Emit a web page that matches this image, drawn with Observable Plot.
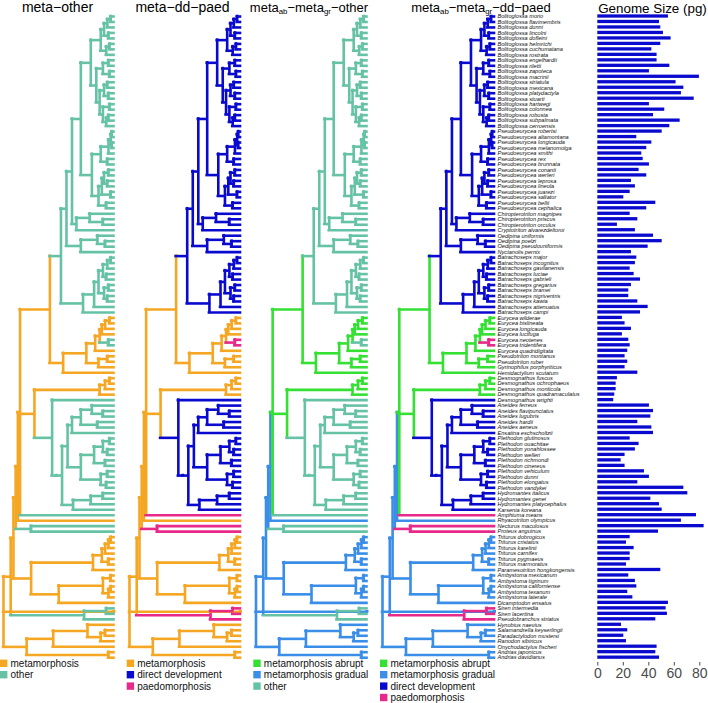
<!DOCTYPE html>
<html>
<head>
<meta charset="utf-8">
<script src="https://cdn.jsdelivr.net/npm/d3@7"></script>
<script src="https://cdn.jsdelivr.net/npm/@observablehq/plot@0.6"></script>
<style>
  body { margin: 0; background: #fff; font-family: "Liberation Sans", Arial, Helvetica, sans-serif; }
  #wrap { position: relative; width: 708px; height: 703px; overflow: hidden; background: #fff; }
  #wrap > svg { position: absolute; top: 0; left: 0; }
</style>
</head>
<body>
<div id="wrap"></div>
<script>
// ---------------- data ----------------
const species = [
  "Bolitoglossa morio","Bolitoglossa flavimembris","Bolitoglossa dunni","Bolitoglossa lincolni","Bolitoglossa dofleini",
  "Bolitoglossa helmrichi","Bolitoglossa cuchumatana","Bolitoglossa rostrata","Bolitoglossa engelhardti","Bolitoglossa riletti",
  "Bolitoglossa zapoteca","Bolitoglossa macrinii","Bolitoglossa striatula","Bolitoglossa mexicana","Bolitoglossa platydactyla",
  "Bolitoglossa stuarti","Bolitoglossa hartwegi","Bolitoglossa colonnea","Bolitoglossa robusta","Bolitoglossa subpalmata",
  "Bolitoglossa cerroensis",
  "Pseudoeurycea robertsi","Pseudoeurycea altamontana","Pseudoeurycea longicauda","Pseudoeurycea melanomolga","Pseudoeurycea smithi",
  "Pseudoeurycea rex","Pseudoeurycea brunnata","Pseudoeurycea conanti","Pseudoeurycea werleri","Pseudoeurycea leprosa",
  "Pseudoeurycea lineola","Pseudoeurycea juarezi","Pseudoeurycea saltator","Pseudoeurycea bellii","Pseudoeurycea cephalica",
  "Chiropterotriton magnipes","Chiropterotriton priscus","Chiropterotriton orculus","Cryptotriton alvarezdeltoroi",
  "Oedipina uniformis","Oedipina poelzi","Oedipina pseudouniformis","Nyctanolis pernix",
  "Batrachoseps major","Batrachoseps incognitus","Batrachoseps gavilanensis","Batrachoseps luciae","Batrachoseps gabrieli",
  "Batrachoseps gregarius","Batrachoseps bramei","Batrachoseps nigriventris","Batrachoseps kawia","Batrachoseps attenuatus",
  "Batrachoseps campi",
  "Eurycea wilderae","Eurycea bislineata","Eurycea longicauda","Eurycea lucifuga","Eurycea neotenes","Eurycea tridentifera",
  "Eurycea quadridigitata","Pseudotriton montanus","Pseudotriton ruber","Gyrinophilus porphyriticus","Hemidactylium scutatum",
  "Desmognathus fuscus","Desmognathus ochrophaeus","Desmognathus monticola","Desmognathus quadramaculatus","Desmognathus wrighti",
  "Aneides ferreus","Aneides flavipunctatus","Aneides lugubris","Aneides hardii","Aneides aeneus","Ensatina eschscholtzii",
  "Plethodon glutinosus","Plethodon ouachitae","Plethodon yonahlossee","Plethodon welleri","Plethodon richmondi",
  "Plethodon cinereus","Plethodon vehiculum","Plethodon dunni","Plethodon elongatus","Plethodon vandykei",
  "Hydromantes italicus","Hydromantes genei","Hydromantes platycephalus","Karsenia koreana",
  "Amphiuma means","Rhyacotriton olympicus","Necturus maculosus","Proteus anguinus",
  "Triturus dobrogicus","Triturus cristatus","Triturus karelinii","Triturus carnifex","Triturus pygmaeus","Triturus marmoratus",
  "Paramesotriton hongkongensis",
  "Ambystoma mexicanum","Ambystoma tigrinum","Ambystoma californiense","Ambystoma texanum","Ambystoma laterale",
  "Dicamptodon ensatus","Siren intermedia","Siren lacertina","Pseudobranchus striatus",
  "Hynobius naevius","Salamandrella keyserlingii","Paradactylodon mustersi","Ranodon sibiricus","Onychodactylus fischeri",
  "Andrias japonicus","Andrias davidianus"
];

// developmental mode of each species: ma = metamorphosis abrupt, mg = metamorphosis gradual,
// dd = direct development, pa = paedomorphosis
const devMode = [
  "dd","dd","dd","dd","dd","dd","dd","dd","dd","dd","dd","dd","dd","dd","dd","dd","dd","dd","dd","dd","dd",
  "dd","dd","dd","dd","dd","dd","dd","dd","dd","dd","dd","dd","dd","dd","dd",
  "dd","dd","dd","dd",
  "dd","dd","dd","dd",
  "dd","dd","dd","dd","dd","dd","dd","dd","dd","dd","dd",
  "ma","ma","ma","ma","pa","pa","ma","ma","ma","ma","ma",
  "ma","ma","ma","ma","dd",
  "dd","dd","dd","dd","dd","dd",
  "dd","dd","dd","dd","dd","dd","dd","dd","dd","dd",
  "dd","dd","dd","dd",
  "pa","mg","pa","pa",
  "mg","mg","mg","mg","mg","mg","mg",
  "mg","mg","mg","mg","mg","mg",
  "pa","pa","pa",
  "mg","mg","mg","mg","mg","mg","mg"
];

const genomeSize = [
  55.4,48.4,49.4,51.5,57.5,49.4,42.4,46.5,46.5,56.5,40.5,79.7,61.4,67.5,65.6,75.6,40.5,52.5,43.7,64.6,56.5,
  50.5,30.6,42.4,38.4,34.5,35.6,40.5,32.4,38.4,26.4,29.5,25.4,20.4,45.5,38.4,
  25.4,31.4,15.4,29.5,
  43.7,50.5,39.5,26.4,
  30.6,29.5,25.4,28.5,33.5,26.4,24.3,24.3,31.4,39.5,33.5,
  19.3,21.4,26.4,19.3,24.3,25.4,23.5,21.4,23.5,21.4,31.4,
  15.4,14.4,14.4,13.3,12.5,
  40.5,43.7,41.6,31.4,42.4,43.7,
  25.4,32.4,29.5,21.4,18.3,21.4,36.6,40.5,31.4,67.5,
  70.6,41.6,48.4,50.5,
  77.4,65.6,83.4,47.6,
  25.4,22.5,28.5,25.4,25.4,22.5,49.4,
  24.3,29.5,30.6,23.5,27.5,55.4,
  53.6,54.6,45.5,
  18.6,23.5,20.4,22.5,46.5,45.5,48.4
];

// tree topology: a leaf is an index into species; the number after ")" is the node age (root = 1)
const cladeBolitoglossa = "(((((0,1)0.03,2)0.06,(3,4)0.05)0.09,((5,6)0.04,7)0.07)0.12,(((8,9)0.05,(10,11)0.04)0.1,(((12,13)0.06,(14,15)0.05)0.09,((16,17)0.04,((18,19)0.05,20)0.07)0.1)0.13)0.16)0.21";
const cladePseudoeurycea = "(((((21,22)0.02,(23,24)0.02)0.03,25)0.05,(26,27)0.06)0.12,((((28,29)0.05,(30,31)0.06)0.09,(32,33)0.03)0.11,(34,35)0.07)0.14)0.2";
const cladeChiropterotriton = "((36,(37,38)0.1)0.22,39)0.34";
const cladeOedipina = "((40,(41,42)0.08)0.15,43)0.3";
const cladeBatrachoseps = "((((((44,45)0.03,46)0.06,(47,48)0.07)0.1,((49,50)0.05,(51,52)0.06)0.09)0.14,53)0.18,54)0.28";
const cladeEurycea = "(((((55,56)0.04,57)0.08,58)0.11,(59,60)0.05)0.13,61)0.17";
const cladeSpelerpini = "(" + cladeEurycea + ",((62,63)0.06,64)0.14)0.25";
const cladeDesmognathus = "(((66,67)0.04,68)0.08,69)0.13";
const cladeAneides = "((71,(72,73)0.1)0.2,(74,75)0.15)0.3";
const cladePlethodon = "((((77,78)0.04,(79,80)0.06)0.1,(81,82)0.08)0.18,((83,84)0.06,(85,86)0.07)0.12)0.3";
const cladeHydromantes = "(((87,88)0.1,89)0.21,90)0.37";
const cladeSalamandridae = "(((((95,96)0.03,97)0.05,98)0.08,(99,100)0.05)0.11,101)0.19";
const cladeAmbystomatidae = "(((102,103)0.03,((104,105)0.03,106)0.05)0.1,107)0.5";
const cladeSirenidae = "((108,109)0.07,110)0.27";
const cladeCryptobranchoidea = "(((111,((112,113)0.08,114)0.12)0.24,115)0.55,(116,117)0.05)0.79";

const cladeHemidactyliinae = "(((((" + cladeBolitoglossa + "," + cladePseudoeurycea + ")0.3," + cladeChiropterotriton + ")0.38," +
  cladeOedipina + ")0.43," + cladeBatrachoseps + ")0.48,(" + cladeSpelerpini + ",65)0.46)0.58";
const cladePlethodontinae = "(" + cladeDesmognathus + ",(70,((((" + cladeAneides + ",76)0.38," + cladePlethodon + ")0.42," +
  cladeHydromantes + ")0.47)0.52)0.56";
const treeString = "((((((((" + cladeHemidactyliinae + "," + cladePlethodontinae + ")0.72,91)0.85,92)0.87,(93,94)0.75)0.89,(" +
  cladeSalamandridae + "," + cladeAmbystomatidae + ")0.75)0.91," + cladeSirenidae + ")0.935," + cladeCryptobranchoidea + ")1";

const panelTitles = [
  [["meta−other", false]],
  [["meta−dd−paed", false]],
  [["meta", false], ["ab", true], ["−meta", false], ["gr", true], ["−other", false]],
  [["meta", false], ["ab", true], ["−meta", false], ["gr", true], ["−dd−paed", false]]
];
const codings = [
  { map: { ma: "metamorphosis", mg: "metamorphosis", dd: "other", pa: "other" },
    states: ["metamorphosis", "other"] },
  { map: { ma: "metamorphosis", mg: "metamorphosis", dd: "direct development", pa: "paedomorphosis" },
    states: ["metamorphosis", "direct development", "paedomorphosis"] },
  { map: { ma: "metamorphosis abrupt", mg: "metamorphosis gradual", dd: "other", pa: "other" },
    states: ["metamorphosis abrupt", "metamorphosis gradual", "other"],
    priority: ["metamorphosis gradual", "metamorphosis abrupt", "other"] },
  { map: { ma: "metamorphosis abrupt", mg: "metamorphosis gradual", dd: "direct development", pa: "paedomorphosis" },
    states: ["metamorphosis abrupt", "metamorphosis gradual", "direct development", "paedomorphosis"],
    priority: ["metamorphosis gradual", "metamorphosis abrupt", "direct development", "paedomorphosis"] }
];
const stateColor = {
  "metamorphosis": "#F5A623",
  "other": "#66C2A5",
  "direct development": "#0A0ACF",
  "paedomorphosis": "#E7298A",
  "metamorphosis abrupt": "#33E033",
  "metamorphosis gradual": "#3A8EE8"
};
const genomeTitle = "Genome Size (pg)";

// ---------------- tree parsing & layout ----------------
function parseTree(s) {
  let i = 0;
  function node() {
    if (s[i] === "(") {
      i++;
      const children = [node()];
      while (s[i] === ",") { i++; children.push(node()); }
      i++; // ")"
      let num = "";
      while (i < s.length && /[0-9.]/.test(s[i])) num += s[i++];
      return { children, age: +num };
    }
    let num = "";
    while (/[0-9]/.test(s[i])) num += s[i++];
    return { leaf: +num, age: 0 };
  }
  return node();
}
const root = parseTree(treeString);
const allNodes = [];
(function walk(n, parent) {
  n.parent = parent;
  allNodes.push(n);
  if (n.children) {
    n.children.forEach(c => walk(c, n));
    n.y = (n.children[0].y + n.children[n.children.length - 1].y) / 2;
    n.leaves = n.children.flatMap(c => c.leaves);
  } else {
    n.y = n.leaf;
    n.leaves = [n.leaf];
  }
})(root, null);

function segmentsFor(coding) {
  const prio = coding.priority || coding.states;
  const stateOf = n => {
    const set = new Set(n.leaves.map(l => coding.map[devMode[l]]));
    if (set.size === 1) return [...set][0];
    return prio.find(s => set.has(s));
  };
  allNodes.forEach(n => n.state = stateOf(n));
  const h = [], v = [];
  allNodes.forEach(n => {
    if (n.parent) h.push({ a1: n.parent.age, a2: n.age, y: n.y, state: n.state });
    if (n.children) v.push({ age: n.age, y1: n.children[0].y, y2: n.children[n.children.length - 1].y, state: n.state });
  });
  return { h, v };
}

// ---------------- drawing ----------------
const W = 708, H = 703;
const wrap = document.getElementById("wrap");
const rootX = [3, 129, 255.5, 382];
const tipX = [113.5, 240, 366.5, 494];
const leafY = [16, 657.2];
const lw = 2.6;

codings.forEach((coding, p) => {
  const { h, v } = segmentsFor(coding);
  const marks = [
    Plot.ruleX(v, { x: "age", y1: "y1", y2: "y2", stroke: "state", strokeWidth: lw, strokeLinecap: "square" }),
    Plot.ruleY(h, { y: "y", x1: "a1", x2: "a2", stroke: "state", strokeWidth: lw, strokeLinecap: "square" })
  ];
  if (p === 3) {
    marks.push(Plot.text(species.map((name, i) => ({ name, i, age: 0 })), {
      x: "age", y: "i", text: "name", dx: 3, textAnchor: "start",
      fontSize: 5.6, fontStyle: "italic", fill: "#111"
    }));
  }
  const svg = Plot.plot({
    width: W, height: 664,
    x: { domain: [1, 0], range: [rootX[p], tipX[p]], axis: null },
    y: { domain: [0, species.length - 1], range: leafY, axis: null },
    color: { domain: coding.states, range: coding.states.map(s => stateColor[s]) },
    style: { background: "transparent", overflow: "visible", fontFamily: "Liberation Sans, Arial, Helvetica, sans-serif" },
    marks
  });
  wrap.appendChild(svg);
});

// genome size bars
const bars = Plot.plot({
  width: W, height: 690, marginBottom: 28,
  x: { domain: [0, 80], range: [597.3, 699.3], ticks: 4, tickSize: 3.5, tickPadding: 2, label: null },
  y: { type: "band", domain: species, range: [13.26, 659.9], paddingInner: 0.4, paddingOuter: 0.2, axis: null },
  style: { background: "transparent", overflow: "visible", fontSize: "14px", color: "#4a4a4a",
           fontFamily: "Liberation Sans, Arial, Helvetica, sans-serif" },
  marks: [
    Plot.barX(species.map((name, i) => ({ name, size: genomeSize[i] })), { x: "size", y: "name", fill: stateColor["direct development"] })
  ]
});
wrap.appendChild(bars);

// titles and legends
const ov = d3.create("svg").attr("width", W).attr("height", H)
  .style("font-family", "Liberation Sans, Arial, Helvetica, sans-serif");
const titleX = [57.5, 182.5, 309, 481];
const titleSize = [14, 14, 13, 13];
const titleBase = [12, 12, 11.5, 11.5];
panelTitles.forEach((parts, p) => {
  const t = ov.append("text").attr("x", titleX[p]).attr("y", titleBase[p]).attr("text-anchor", "middle")
    .attr("font-size", titleSize[p]).attr("fill", "#000");
  let off = 0;
  parts.forEach(([s, sub]) => {
    const target = sub ? 2.6 : 0;
    t.append("tspan").text(s).attr("font-size", sub ? titleSize[p] * 0.6 : titleSize[p]).attr("dy", target - off);
    off = target;
  });
});
ov.append("text").attr("x", 652.5).attr("y", 12.5).attr("text-anchor", "middle").attr("font-size", 13.4)
  .attr("fill", "#000").text(genomeTitle);

const legendX = [0, 126.7, 253.3, 380];
codings.forEach((coding, p) => {
  coding.states.forEach((s, k) => {
    const cy = 663.3 + 11.4 * k;
    ov.append("rect").attr("x", legendX[p]).attr("y", cy - 3.7).attr("width", 7.4).attr("height", 7.4)
      .attr("fill", stateColor[s]);
    ov.append("text").attr("x", legendX[p] + 10.5).attr("y", cy).attr("dy", "0.35em")
      .attr("font-size", 10).attr("fill", "#111").text(s);
  });
});
wrap.appendChild(ov.node());
</script>
</body>
</html>
